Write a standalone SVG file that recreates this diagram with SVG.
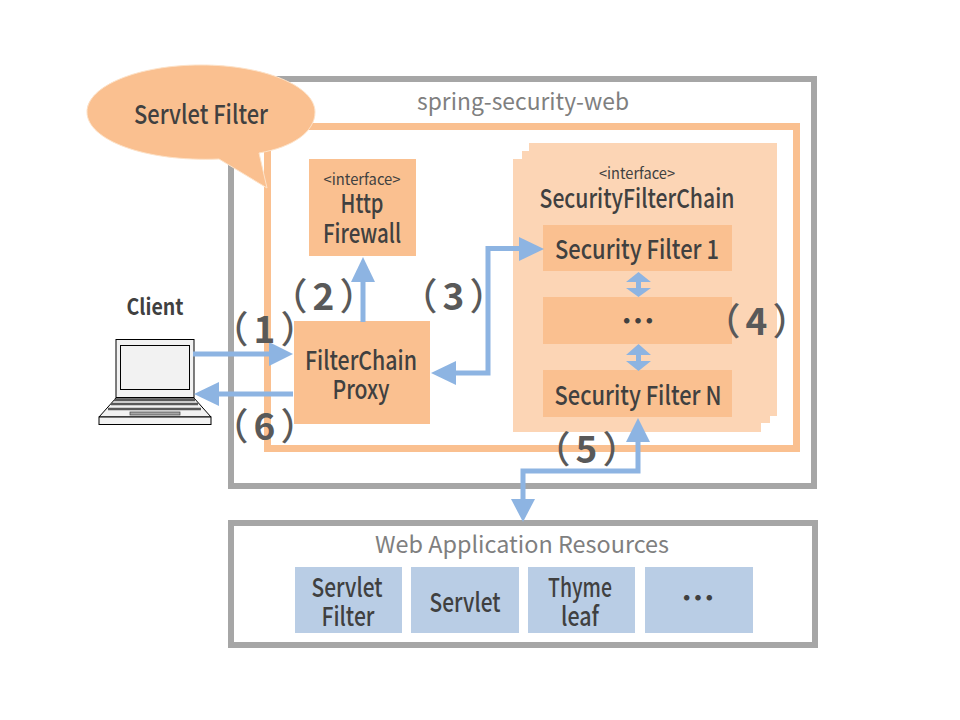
<svg xmlns="http://www.w3.org/2000/svg" width="960" height="720" viewBox="0 0 960 720">
<style>
text{font-family:"Noto Sans CJK JP","Noto Sans","DejaVu Sans",sans-serif;fill:#404040;text-anchor:middle}
.b{font-weight:500;font-size:26px}
.d{font-weight:700;font-size:34px;fill:#404040}
.g{fill:#7f7f7f;font-size:23px;font-weight:400}
.n{font-size:37px;font-weight:700;fill:#595959;letter-spacing:5px}
.n tspan{font-weight:500}
.s{font-size:15px}
.o{fill:#fac090}
.l{fill:#fcd5b5}
.u{fill:#b9cde5}
.c{fill:none;stroke:#8db4e2;stroke-width:5}
.a{fill:#8db4e2}
.k{stroke:#000;stroke-width:1}
</style>
<rect width="960" height="720" fill="#fff"/>
<g id="spring-security-web"><rect x="231" y="79" width="583" height="407" fill="#fff" stroke="#a6a6a6" stroke-width="6"/><text class="g" x="523" y="110" textLength="212" lengthAdjust="spacingAndGlyphs">spring-security-web</text></g>
<g id="servlet-filter-frame"><rect x="267.500" y="126.500" width="529" height="322" fill="none" stroke="#fac090" stroke-width="7"/></g>
<g id="callout"><path class="o" stroke="#fde2c8" stroke-width="1" d="M87 112C87 86 138 65 201 65C264 65 315 86 315 112C315 132 293 147 259 153L267 188L219 159C145 162 87 140 87 112Z"/><text class="b" x="201" y="124" textLength="134" lengthAdjust="spacingAndGlyphs">Servlet Filter</text></g>
<g id="http-firewall"><rect class="o" x="309" y="159" width="107" height="97"/><text class="s" x="362" y="185" textLength="77" lengthAdjust="spacingAndGlyphs">&lt;interface&gt;</text><text class="b" x="362" y="213" textLength="43" lengthAdjust="spacingAndGlyphs">Http</text><text class="b" x="362" y="243" textLength="78" lengthAdjust="spacingAndGlyphs">Firewall</text></g>
<g id="filter-chain-proxy"><rect class="o" x="294" y="321" width="136" height="103"/><text class="b" x="361" y="370" textLength="112" lengthAdjust="spacingAndGlyphs">FilterChain</text><text class="b" x="361" y="399" textLength="57" lengthAdjust="spacingAndGlyphs">Proxy</text></g>
<g id="security-filter-chain"><rect class="l" x="529" y="143" width="248" height="273"/><rect class="l" x="522" y="151" width="248" height="272"/><rect class="l" x="513" y="159" width="248" height="273"/><text class="s" x="637" y="179" textLength="76" lengthAdjust="spacingAndGlyphs">&lt;interface&gt;</text><text class="b" x="637" y="208" textLength="195" lengthAdjust="spacingAndGlyphs">SecurityFilterChain</text></g>
<g id="security-filter-1"><rect class="o" x="543" y="225" width="189" height="46"/><text class="b" x="637" y="259" textLength="164" lengthAdjust="spacingAndGlyphs">Security Filter 1</text></g>
<g id="security-filter-dots"><rect class="o" x="543" y="297" width="189" height="47"/><text class="d" x="638" y="334">…</text></g>
<g id="security-filter-n"><rect class="o" x="543" y="370" width="189" height="47"/><text class="b" x="638" y="405" textLength="167" lengthAdjust="spacingAndGlyphs">Security Filter N</text></g>
<g id="web-application-resources"><rect x="231" y="523" width="584" height="122" fill="#fff" stroke="#a6a6a6" stroke-width="6"/><text class="g" x="522" y="553" textLength="294" lengthAdjust="spacingAndGlyphs">Web Application Resources</text></g>
<g id="res-servlet-filter"><rect class="u" x="295" y="567" width="107" height="66"/><text class="b" x="347" y="597" textLength="71" lengthAdjust="spacingAndGlyphs">Servlet</text><text class="b" x="348" y="626" textLength="53" lengthAdjust="spacingAndGlyphs">Filter</text></g>
<g id="res-servlet"><rect class="u" x="411" y="567" width="108" height="66"/><text class="b" x="465" y="612" textLength="71" lengthAdjust="spacingAndGlyphs">Servlet</text></g>
<g id="res-thymeleaf"><rect class="u" x="528" y="567" width="107" height="66"/><text class="b" x="580" y="597" textLength="64" lengthAdjust="spacingAndGlyphs">Thyme</text><text class="b" x="580" y="626" textLength="38" lengthAdjust="spacingAndGlyphs">leaf</text></g>
<g id="res-dots"><rect class="u" x="645" y="567" width="108" height="66"/><text class="d" x="698" y="611">…</text></g>
<g id="client"><text x="155" y="315" textLength="57" lengthAdjust="spacingAndGlyphs" style="font-size:22px;font-weight:700">Client</text>
<rect x="116" y="339.500" width="78" height="58" fill="#f2f2f2" class="k"/><rect x="120.500" y="345.500" width="69" height="44" fill="#f2f2f2" class="k"/>
<path d="M116 398H194L211 417H99Z" fill="#f2f2f2" class="k"/><rect x="99" y="417" width="112" height="7.500" fill="#f2f2f2" class="k"/>
<path d="M114 400H195M111 404H198M108 409H201" stroke="#595959" stroke-width="2.500"/><rect x="130" y="412" width="50" height="3" fill="#a6a6a6" stroke="#404040" stroke-width=".7"/></g>
<g id="connectors">
<path class="c" d="M193 354H270"/><path class="a" d="M269 342L293 354L269 366Z"/>
<path class="c" d="M293 394H217"/><path class="a" d="M194 394L219 382V406Z"/>
<path class="c" d="M363 322V279"/><path class="a" d="M363 257L375 282H351Z"/>
<path class="c" d="M455 373H488V248.500H522"/><path class="a" d="M431 373L456 361V385Z"/><path class="a" d="M544 249L519 237V261Z"/>
<path class="a" d="M638.500 272L651 282H641V288H651L638.500 297L626 288H636V282H626Z"/>
<path class="a" d="M638.500 344L651 355H641V361H651L638.500 371L626 361H636V355H626Z"/>
<path class="c" d="M638 440V471H523V500"/><path class="a" d="M638 418L650 442H626Z"/><path class="a" d="M523 522L511 499H535Z"/>
</g>
<g id="step-labels">
<text class="n" x="267" y="343"><tspan>（</tspan>1<tspan>）</tspan></text><text class="n" x="326" y="310"><tspan>（</tspan>2<tspan>）</tspan></text><text class="n" x="456" y="310"><tspan>（</tspan>3<tspan>）</tspan></text><text class="n" x="759" y="335"><tspan>（</tspan>4<tspan>）</tspan></text><text class="n" x="589" y="463"><tspan>（</tspan>5<tspan>）</tspan></text><text class="n" x="267" y="440"><tspan>（</tspan>6<tspan>）</tspan></text>
</g>
</svg>
